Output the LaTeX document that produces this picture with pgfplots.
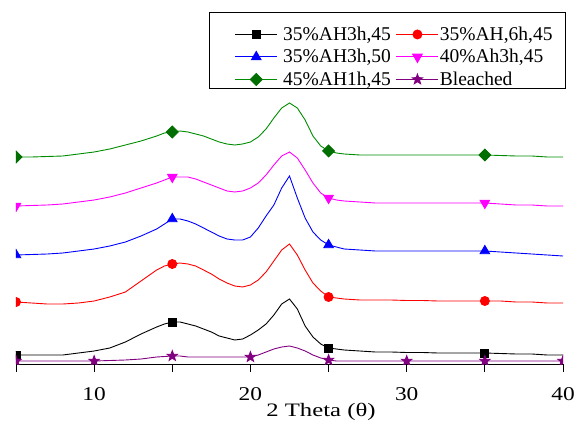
\documentclass[border=0pt]{standalone}
\usepackage{fontspec}
\setmainfont{Liberation Serif}
\newfontfamily\tickfont[FakeStretch=1.2]{Liberation Serif}
\newfontfamily\labfont[FakeStretch=1.3]{Liberation Serif}
\usepackage{pgfplots}
\usepackage{pgfplotstable}
\pgfplotsset{compat=1.18}
\definecolor{myred}{RGB}{255,0,0}
\definecolor{myblue}{RGB}{0,0,255}
\definecolor{mymag}{RGB}{255,0,255}
\definecolor{mygreen}{RGB}{0,140,0}
\definecolor{mydkgreen}{RGB}{0,110,0}
\definecolor{mypurple}{RGB}{128,0,128}

\pgfdeclareplotmark{fstar}{%
  \pgfpathmoveto{\pgfqpointpolar{90}{\pgfplotmarksize}}%
  \pgfpathlineto{\pgfqpointpolar{126}{0.42\pgfplotmarksize}}%
  \pgfpathlineto{\pgfqpointpolar{162}{\pgfplotmarksize}}%
  \pgfpathlineto{\pgfqpointpolar{198}{0.42\pgfplotmarksize}}%
  \pgfpathlineto{\pgfqpointpolar{234}{\pgfplotmarksize}}%
  \pgfpathlineto{\pgfqpointpolar{270}{0.42\pgfplotmarksize}}%
  \pgfpathlineto{\pgfqpointpolar{306}{\pgfplotmarksize}}%
  \pgfpathlineto{\pgfqpointpolar{342}{0.42\pgfplotmarksize}}%
  \pgfpathlineto{\pgfqpointpolar{18}{\pgfplotmarksize}}%
  \pgfpathlineto{\pgfqpointpolar{54}{0.42\pgfplotmarksize}}%
  \pgfpathclose
  \pgfusepathqfillstroke
}

\pgfplotsset{
  legR/.style={legend image code/.code={%
    \path (-2bp,0bp);
    \draw (0bp,5.7bp) -- (42bp,5.7bp);
    \draw[mark indices={1}] plot coordinates {(21bp,5.7bp)};}},
  legL/.style={legend image code/.code={%
    \path (-15bp,0bp);
    \draw (0bp,5.7bp) -- (42bp,5.7bp);
    \draw[mark indices={1}] plot coordinates {(21bp,5.7bp)};}},
}
\newcommand\ls{\rule[-3bp]{0pt}{22bp}}
\newcommand\lsTop{\rule[-3bp]{0pt}{29bp}}
\newcommand\gapL{\hspace*{2.5bp}}
\newcommand\gapR{\hspace*{-2bp}}

\pgfplotstableread{
x    k    r     b     m     g     p
5    7    60    107   156   205   1
6    7    59    107.5 156.5 205   1
7    7    58    108   157   205.5 1
8    7    58    109   158   206   1
9    9    59    111   160   208   1
10   11   61    113   162   210   1
11   14   65    116   165   213   1.5
12   20   70    120   169   217   2
13   28   81    126   174   221   3
14   35   92    133   179   226   5
14.5 38   96    138   182   229   5.5
15   40   98    143   185   230   6
15.5 40   99    143   185   231   6
16   38   98    141   185   230   5
16.5 36   96    138   183   228   5
17   33   92    134   180   226   5
17.5 30   88    130   177   223   5
18   26   83    126   174   220   5
18.5 24   79    123   171   218   5
19   22   76    122   170   217   5
19.5 23   75    122   171   218   5
20   27   77    125   174   220   5
20.5 32   82    134   179   225   7
21   38   90    146   187   233   10
21.5 47   101   157   197   244   13
22   58   112   174   206   254   15
22.5 63   118   186   210   259   16
23   53   107   164   204   254   14
23.5 36   92    144   192   242   11
24   25   79    130   179   226   7
24.5 18   71    122   169   216   4
25   14   65    117   164   211   2
25.5 13   64    115   162   209   1
26   12   63    113   161   208   1
27   11   62    112   160   207   1
28   10   62    111   159   207   1
29   10   62    111   159   207   1
30   9.5  61.5  111   159   207   1
31   9.5  61.5  111   159   207   1
32   9    61    111   159   207   1
33   9    61    111   159   207   1
34   9    61    111   159   207   1
35   9    61    111   159   207   1
36   8.5  61    110   158   206.5 1
37   8    60    109   157   206   1
38   8    60    108   157   206   1
39   7    59    107   156   205   1
40   7    59    106   156   205   1
}\xrd

\begin{document}
\begin{tikzpicture}
\path[use as bounding box] (-16bp,-65bp) rectangle (559bp,364bp);
\begin{axis}[
  at={(0bp,0bp)}, anchor=south west,
  scale only axis, width=547bp, height=356bp,
  xmin=5, xmax=40, ymin=-2, ymax=354,
  axis y line=none, axis x line*=bottom,
  x axis line style={-, line width=0.9bp},
  xtick={5,10,...,40}, xticklabels={,10,,20,,30,,40},
  tick align=outside, major tick length=8bp,
  tick style={black, line width=0.9bp},
  /pgf/number format/assume math mode=true,
  xticklabel style={font=\tickfont\fontsize{19.5bp}{20bp}\selectfont, inner sep=0pt, anchor=north, yshift=-15bp},
  xlabel={2 Theta (θ)},
  xlabel style={font=\labfont\fontsize{19bp}{22bp}\selectfont, at={(axis description cs:0.5576,-0.135)}, anchor=center, inner sep=0pt},
  clip marker paths=true,
  legend columns=2,
  legend cell align=left,
  legend style={at={(axis description cs:1.0055,0.9896)}, anchor=north east,
    draw=black, line width=0.9bp,
    font=\fontsize{19.5bp}{23bp}\selectfont,
    inner xsep=10bp, inner ysep=1bp,
    /tikz/column sep=0bp, /tikz/row sep=0bp,
    cells={anchor=base west},
    nodes={inner xsep=3bp, inner ysep=1bp, fill=none}},
  every axis plot/.append style={line width=0.9bp},
]
\addplot[black, mark=square*, mark size=4bp, mark indices={1,12,32,43}, legL] table[x=x,y=k]{\xrd};
\addlegendentry{\lsTop\gapL 35\%AH3h,45}
\addplot[myred, mark=*, mark size=4.5bp, mark indices={1,12,32,43}, legR] table[x=x,y=r]{\xrd};
\addlegendentry{\lsTop\gapR 35\%AH,6h,45}
\addplot[myblue, mark=triangle*, mark size=5.5bp, mark indices={1,12,32,43}, legL] table[x=x,y=b]{\xrd};
\addlegendentry{\ls\gapL 35\%AH3h,50}
\addplot[mymag, mark=triangle*, mark options={rotate=180}, mark size=5.5bp, mark indices={1,12,32,43}, legR] table[x=x,y=m]{\xrd};
\addlegendentry{\ls\gapR 40\%Ah3h,45}
\addplot[mygreen, mark=square*, mark options={rotate=45, draw=mydkgreen, fill=mydkgreen}, mark size=4.2bp, mark indices={1,12,32,43}, legL] table[x=x,y=g]{\xrd};
\addlegendentry{\ls\gapL 45\%AH1h,45}
\addplot[mypurple, mark=fstar, mark options={fill=mypurple}, mark size=5.3bp, mark indices={1,6,12,22,32,38,43,48}, legR] table[x=x,y=p]{\xrd};
\addlegendentry{\ls\gapR Bleached}
\end{axis}
\end{tikzpicture}
\end{document}
